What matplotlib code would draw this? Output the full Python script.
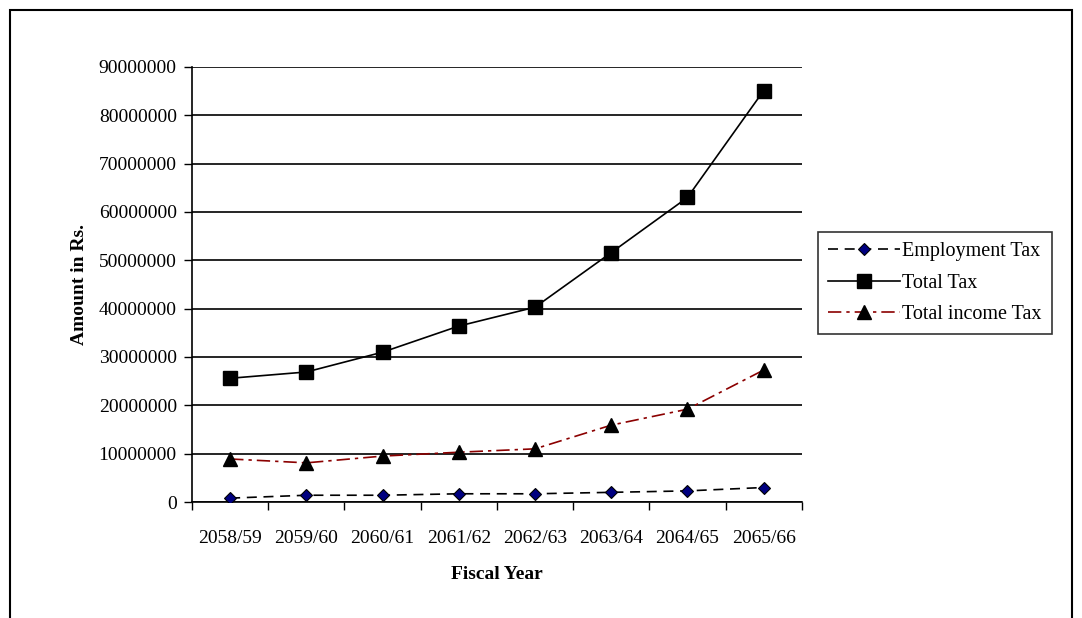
import matplotlib.pyplot as plt
import matplotlib.patches as patches
import numpy as np

plt.rcParams['font.family'] = ['Liberation Serif', 'DejaVu Serif']

years = ["2058/59", "2059/60", "2060/61", "2061/62", "2062/63", "2063/64", "2064/65", "2065/66"]
employment_tax = [800000, 1400000, 1400000, 1700000, 1700000, 2000000, 2300000, 3000000]
total_tax = [25600000, 26900000, 31000000, 36400000, 40300000, 51600000, 63000000, 85100000]
income_tax = [8900000, 8100000, 9500000, 10300000, 11000000, 15900000, 19200000, 27300000]

fig = plt.figure(figsize=(10.82, 6.18), dpi=100)
ax = fig.add_axes([0.1775, 0.1877, 0.5635, 0.7039])

# outer chart border
fig.patches.append(patches.Rectangle((10 / 1082, -0.05), 1062 / 1082, 1 - 10 / 618 + 0.05,
                                     transform=fig.transFigure, fill=False,
                                     edgecolor='black', linewidth=1.5))

x = np.arange(len(years))
ax.plot(x, employment_tax, color='black', linestyle=(0, (6, 4)), linewidth=1.2,
        marker='D', markersize=6.5, markerfacecolor='#000080', markeredgecolor='black',
        markeredgewidth=0.8, label='Employment Tax', zorder=3)
ax.plot(x, total_tax, color='black', linestyle='-', linewidth=1.2,
        marker='s', markersize=9.5, markerfacecolor='black', markeredgecolor='black',
        label='Total Tax', zorder=3)
ax.plot(x, income_tax, color='#8B0000', linestyle=(0, (8, 3, 2, 3)), linewidth=1.2,
        marker='^', markersize=9.5, markerfacecolor='black', markeredgecolor='black',
        label='Total income Tax', zorder=3)

ax.set_xlim(-0.5, len(years) - 0.5)
ax.set_ylim(0, 90000000)
ax.set_yticks(np.arange(0, 90000001, 10000000))
ax.set_yticklabels([str(v) for v in range(0, 90000001, 10000000)])
ax.set_xticks(np.arange(-0.5, len(years), 1.0))
ax.set_xticklabels([])
ax.set_xticks(x, minor=True)
ax.set_xticklabels(years, minor=True)
ax.tick_params(axis='x', which='minor', length=0, pad=20, labelsize=14)
ax.tick_params(axis='x', which='major', direction='out', length=6, width=1)
ax.tick_params(axis='y', direction='out', length=6, width=1, labelsize=14, pad=5)

ax.yaxis.grid(True, color='black', linewidth=1.2)
ax.set_axisbelow(True)
for s in ['top', 'right']:
    ax.spines[s].set_visible(False)
ax.spines['left'].set_linewidth(1.2)
ax.spines['bottom'].set_linewidth(1.2)

ax.set_ylabel('Amount in Rs.', fontsize=14, fontweight='bold', labelpad=8)
ax.set_xlabel('Fiscal Year', fontsize=14, fontweight='bold', labelpad=14)

leg = ax.legend(loc='upper left', bbox_to_anchor=(1.026, 0.621), fontsize=14.5,
                frameon=True, fancybox=False, edgecolor='black', handlelength=3.6,
                handletextpad=0.1, borderpad=0.5, labelspacing=0.62, borderaxespad=0)
leg.get_frame().set_linewidth(1.2)

fig.savefig('out.png', dpi=100)
